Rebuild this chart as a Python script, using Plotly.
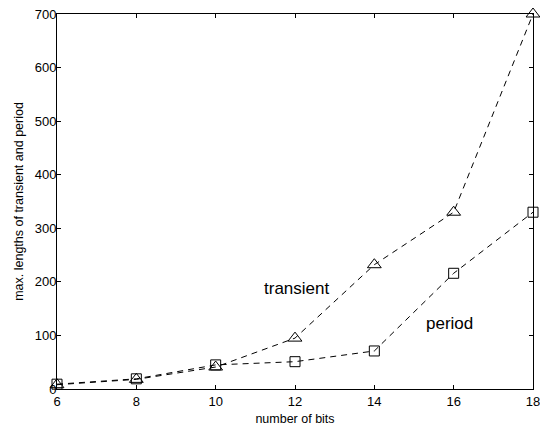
import plotly.graph_objects as go

bits = [6, 8, 10, 12, 14, 16, 18]
transient = [8, 18, 41, 95, 232, 330, 700]
period = [9, 19, 45, 51, 71, 216, 330]

x_ticks = [6, 8, 10, 12, 14, 16, 18]
y_ticks = [0, 100, 200, 300, 400, 500, 600, 700]

FONT = "Liberation Sans, Arial, sans-serif"

fig = go.Figure()
fig.add_trace(go.Scatter(
    x=bits, y=transient, mode="lines+markers", name="transient",
    line=dict(color="black", width=1, dash="6px,5px"),
    marker=dict(symbol="triangle-up-open", size=12, color="black", line=dict(width=1)),
    cliponaxis=False, hoverinfo="skip",
))
fig.add_trace(go.Scatter(
    x=bits, y=period, mode="lines+markers", name="period",
    line=dict(color="black", width=1, dash="6px,5px"),
    marker=dict(symbol="square-open", size=10, color="black", line=dict(width=1)),
    cliponaxis=False, hoverinfo="skip",
))

fig.add_annotation(x=12.05, y=188, text="transient", showarrow=False,
                   font=dict(family=FONT, size=17, color="black"))
fig.add_annotation(x=15.9, y=122, text="period", showarrow=False,
                   font=dict(family=FONT, size=17, color="black"))

axis_common = dict(
    showgrid=False, zeroline=False, showline=True, linecolor="black", linewidth=1,
    mirror="ticks", ticks="inside", ticklen=4, tickcolor="black", tickwidth=1,
    tickfont=dict(family=FONT, size=13, color="black"),
    automargin=False, ticklabeloverflow="allow",
)

fig.update_layout(
    width=540, height=427,
    margin=dict(l=57, r=7, t=14, b=38),
    paper_bgcolor="white", plot_bgcolor="white",
    showlegend=False,
    xaxis=dict(range=[6, 18], tickvals=x_ticks,
               title=dict(text="number of bits", font=dict(family=FONT, size=12.5, color="black"), standoff=6),
               **axis_common),
    yaxis=dict(range=[0, 700], tickvals=y_ticks, ticklabelstandoff=-3,
               title=dict(text="max. lengths of transient and period", font=dict(family=FONT, size=12.5, color="black"), standoff=8),
               **axis_common),
)

fig.write_html("out.html", config={"displayModeBar": False},
               post_script="document.body.style.margin='0';document.body.style.overflow='hidden';")
